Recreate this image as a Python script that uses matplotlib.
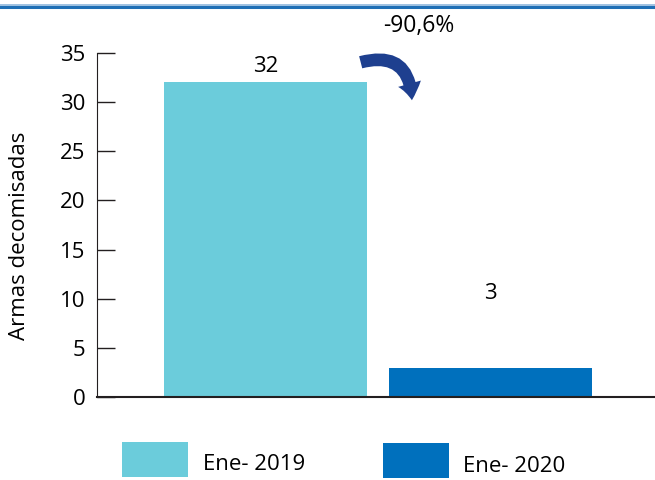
import matplotlib
matplotlib.use("Agg")
import matplotlib.pyplot as plt
from matplotlib.patches import FancyArrowPatch, Rectangle
from matplotlib.lines import Line2D

categories = ["Ene- 2019", "Ene- 2020"]
values = [32, 3]
colors = ["#6BCCDB", "#0070BD"]
yticks = [0, 5, 10, 15, 20, 25, 30, 35]
change_label = "-90,6%"

plt.rcParams['font.family'] = ['Open Sans', 'DejaVu Sans']

W, H = 655, 480
FS = 16
fig = plt.figure(figsize=(W / 100, H / 100), dpi=100)
ax = fig.add_axes([97 / W, 1 - 397 / H, (655 - 97) / W, (397 - 53) / H])

x = [0, 1]
ax.bar(x, values, width=0.9, color=colors)
ax.set_xlim(-0.749, 1.731)
ax.set_ylim(0, 35)
ax.set_yticks(yticks)
ax.tick_params(axis='y', direction='in', length=13, width=1, labelsize=FS, pad=8.5, color='#231F20')
ax.set_xticks([])
for s in ['top', 'right']:
    ax.spines[s].set_visible(False)
ax.spines['left'].set_color('#231F20')
ax.spines['bottom'].set_color('#231F20')
ax.spines['bottom'].set_linewidth(1.5)
ax.set_ylabel("Armas decomisadas", fontsize=FS)
ax.yaxis.set_label_coords((30 - 97) / 558, (397 - 236) / 344)

# value labels
ax.text(x[0], 33.6, str(values[0]), ha='center', va='center', fontsize=FS)
ax.text(x[1], 10.5, str(values[1]), ha='center', va='center', fontsize=FS)

# change label and curved arrow
fig.text(419 / W, 1 - 26 / H, change_label, ha='center', va='center', fontsize=16.5)
arrow = FancyArrowPatch((358 / W, 1 - 63 / H), (412 / W, 1 - 103 / H),
                        transform=fig.transFigure,
                        connectionstyle="arc3,rad=-0.65",
                        arrowstyle="simple,head_width=17,head_length=12,tail_width=9",
                        color="#1E3F8F", lw=0)
fig.patches.append(arrow)

# top rule
fig.add_artist(Line2D([0, 1], [1 - 4.5 / H, 1 - 4.5 / H], color='#8FB8DD', lw=1.2, transform=fig.transFigure))
fig.add_artist(Line2D([0, 1], [1 - 6.5 / H, 1 - 6.5 / H], color='#1F6FB5', lw=2.2, transform=fig.transFigure))

# legend
leg = [(122, 442, 188, 477, 203, 465), (383, 443, 449, 478, 463, 467)]
for (x0, y0, x1, y1, tx, ty), c, lab in zip(leg, colors, categories):
    fig.patches.append(Rectangle((x0 / W, 1 - y1 / H), (x1 - x0) / W, (y1 - y0) / H,
                                 transform=fig.transFigure, color=c, lw=0))
    fig.text(tx / W, 1 - ty / H, lab, ha='left', va='center', fontsize=FS)

fig.savefig("out.png", dpi=100)
